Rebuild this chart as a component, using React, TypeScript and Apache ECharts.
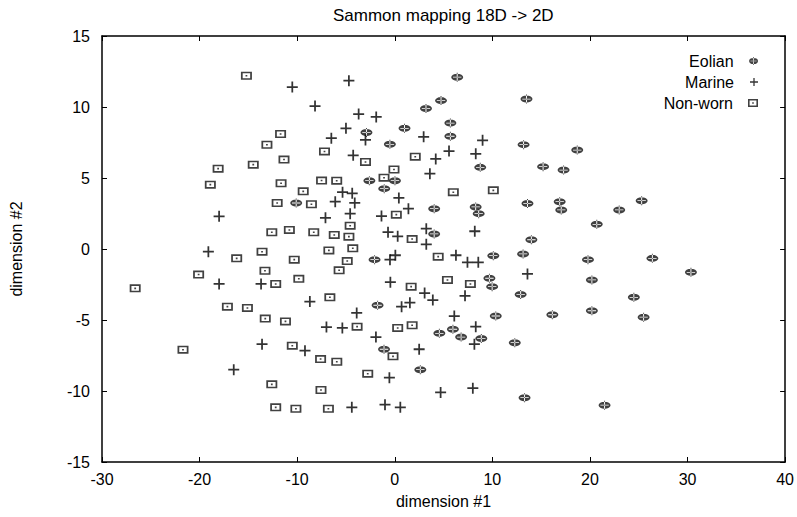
import React, { useEffect, useRef } from "react";
import * as echarts from "echarts";

const title = "Sammon mapping 18D -> 2D";
const xName = "dimension #1";
const yName = "dimension #2";
const seriesNames = ["Eolian", "Marine", "Non-worn"];

const eolian: number[][] = [
  [-10.1, 3.24], [6.4, 12.1], [4.74, 10.45], [3.2, 9.9], [13.5, 10.56], [-2.9, 8.2],
  [1.0, 8.5], [-0.5, 7.37], [5.7, 8.87], [5.7, 7.94], [13.2, 7.35], [8.76, 5.75],
  [15.2, 5.8], [-2.6, 4.81], [0.02, 4.81], [-1.08, 4.25], [13.6, 3.2], [4.04, 2.84],
  [8.29, 2.96], [8.6, 2.49], [4.04, 1.06], [14.0, 0.65], [18.7, 6.97], [17.3, 5.56],
  [16.9, 3.33], [17.06, 2.75], [25.3, 3.4], [23.0, 2.75], [20.7, 1.74], [-2.07, -0.75],
  [10.1, -0.47], [13.15, -0.35], [9.7, -2.06], [9.98, -2.65], [12.9, -3.2], [-1.76, -3.96],
  [10.35, -4.72], [4.57, -5.94], [5.96, -5.65], [6.8, -6.2], [8.87, -6.3], [12.3, -6.6],
  [-1.1, -7.06], [2.62, -8.5], [13.3, -10.47], [19.8, -0.75], [26.4, -0.66], [30.35, -1.64],
  [20.2, -2.18], [24.5, -3.4], [16.15, -4.63], [20.2, -4.35], [25.5, -4.8], [21.5, -11.0],
];

const marine: number[][] = [
  [-10.5, 11.4], [-8.17, 10.07], [-4.7, 11.85], [-3.7, 9.5], [-1.9, 9.3], [-5.0, 8.5],
  [-3.0, 7.68], [-6.5, 7.8], [2.96, 7.9], [9.0, 7.65], [-4.26, 6.6], [4.2, 6.34],
  [5.56, 6.9], [8.3, 6.7], [3.6, 5.3], [-5.35, 4.0], [-4.36, 3.92], [0.42, 3.6],
  [-6.1, 3.33], [-4.1, 3.24], [1.4, 2.84], [-4.57, 2.49], [-7.1, 2.2], [-1.36, 2.32],
  [-18.0, 2.3], [-0.69, 1.18], [0.3, 0.89], [3.23, 1.43], [8.2, 1.25], [3.23, 0.33],
  [-19.1, -0.19], [-18.0, -2.46], [-13.7, -2.46], [-8.7, -3.7], [-7.0, -5.5], [-13.6, -6.7],
  [-9.2, -7.16], [-16.5, -8.5], [-0.49, -0.75], [0.06, -0.44], [6.27, -0.44], [7.45, -0.94],
  [8.56, -0.94], [13.6, -1.76], [-0.45, -2.34], [3.06, -3.1], [3.9, -3.6], [7.2, -3.3],
  [0.7, -4.06], [1.55, -3.78], [-3.9, -4.5], [6.1, -4.72], [-5.37, -5.56], [8.3, -5.47],
  [8.16, -6.7], [-1.93, -6.2], [2.5, -7.06], [-0.55, -9.06], [4.7, -10.1], [8.0, -9.8],
  [-4.4, -11.15], [-1.0, -10.96], [0.57, -11.15],
];

const nonWorn: number[][] = [
  [-15.2, 12.2], [-11.7, 8.1], [-13.1, 7.34], [-7.2, 6.87], [-11.35, 6.3], [-18.1, 5.66],
  [-14.5, 5.94], [-18.9, 4.53], [-11.65, 4.63], [-7.5, 4.82], [-9.38, 4.06], [-12.05, 3.24],
  [-8.54, 3.15], [-12.6, 1.18], [-10.8, 1.34], [-8.3, 1.18], [-3.0, 6.13], [2.1, 6.5],
  [-0.08, 5.6], [-5.95, 4.81], [-1.1, 5.02], [6.0, 4.0], [10.1, 4.13], [0.16, 2.42],
  [-4.57, 1.64], [-6.2, 0.99], [-4.7, 0.87], [1.78, 0.7], [-4.3, 0.05], [-6.75, -0.1],
  [-16.2, -0.66], [-13.6, -0.19], [-10.3, -0.75], [-20.1, -1.8], [-13.3, -1.53], [-9.83, -2.1],
  [-26.6, -2.77], [-12.2, -2.46], [-17.15, -4.06], [-15.1, -4.15], [-13.27, -4.9], [-11.2, -5.1],
  [-21.7, -7.09], [-10.5, -6.81], [-7.6, -7.75], [-12.6, -9.53], [-7.56, -9.93], [-12.2, -11.15],
  [-10.13, -11.25], [-4.87, -0.85], [-5.7, -1.5], [4.45, -0.54], [1.68, -2.65], [5.4, -2.18],
  [7.75, -2.46], [-6.65, -3.4], [-3.86, -5.47], [0.3, -5.56], [1.78, -5.37], [-0.18, -7.56],
  [-5.94, -7.94], [-2.77, -8.78], [-6.8, -11.25],
];

const xMin = -30, xMax = 40, xStep = 10;
const yMin = -15, yMax = 15, yStep = 5;

const FONT = "Liberation Sans";

const eolianSym =
  "path://M0,4.5 A5,3.5 0 1,0 10,4.5 A5,3.5 0 1,0 0,4.5 Z M4.6,0 H5.4 V9 H4.6 Z M1.5,4.1 H8.5 V4.9 H1.5 Z";
const plusSym = "path://M4.2,0H5.8V4.2H10V5.8H5.8V10H4.2V5.8H0V4.2H4.2Z";
const boxSym =
  "path://M0,0H10V8H0Z M1.6,1.6V6.4H8.4V1.6Z M4.2,3.2H5.8V4.8H4.2Z";

export default function App() {
  const ref = useRef<HTMLDivElement>(null);
  useEffect(() => {
    if (!ref.current) return;
    const chart = echarts.init(ref.current, undefined, { renderer: "svg" });
    const axisCommon = {
      type: "value" as const,
      splitLine: { show: false },
      axisLine: { show: true, onZero: false, lineStyle: { color: "#000", width: 1.5 } },
      axisTick: { show: true, inside: true, length: 5, lineStyle: { color: "#000", width: 1 } },
    };
    const labelStyle = { color: "#000", fontSize: 16, fontFamily: FONT };
    const legendBase = {
      orient: "vertical" as const,
      align: "right" as const,
      itemWidth: 10,
      itemHeight: 8,
      itemGap: 6,
      textStyle: { color: "#000", fontSize: 16, fontFamily: FONT, padding: [0, 10, 0, 0] },
      padding: 0,
      right: 39,
    };
    chart.setOption({
      animation: false,
      backgroundColor: "#fff",
      title: {
        text: title,
        left: 328,
        top: 2,
        textStyle: { color: "#000", fontSize: 17, fontWeight: "normal", fontFamily: FONT },
      },
      legend: [
        { ...legendBase, data: [seriesNames[0]], top: 53 },
        { ...legendBase, data: [seriesNames[1]], top: 74 },
        { ...legendBase, data: [seriesNames[2]], top: 95 },
      ],
      grid: { left: 95, right: 11, top: 36, bottom: 55, show: false },
      xAxis: [
        {
          ...axisCommon,
          min: xMin, max: xMax, interval: xStep,
          position: "bottom",
          axisLabel: { ...labelStyle, margin: 9 },
          name: xName,
          nameLocation: "middle",
          nameGap: 31,
          nameTextStyle: { ...labelStyle },
        },
        {
          ...axisCommon,
          min: xMin, max: xMax, interval: xStep,
          position: "top",
          axisLabel: { show: false },
        },
      ],
      yAxis: [
        {
          ...axisCommon,
          min: yMin, max: yMax, interval: yStep,
          position: "left",
          axisLabel: { ...labelStyle, margin: 12 },
          name: yName,
          nameLocation: "middle",
          nameGap: 78,
          nameRotate: 90,
          nameTextStyle: { ...labelStyle },
        },
        {
          ...axisCommon,
          min: yMin, max: yMax, interval: yStep,
          position: "right",
          axisLabel: { show: false },
        },
      ],
      series: [
        {
          name: seriesNames[0], type: "scatter", data: eolian,
          symbol: eolianSym, symbolSize: [12, 9],
          itemStyle: { color: "#111" },
        },
        {
          name: seriesNames[1], type: "scatter", data: marine,
          symbol: plusSym, symbolSize: [11, 11],
          itemStyle: { color: "#000" },
        },
        {
          name: seriesNames[2], type: "scatter", data: nonWorn,
          symbol: boxSym, symbolSize: [11, 8],
          itemStyle: { color: "#111" },
        },
      ],
    });
    return () => chart.dispose();
  }, []);
  return <div ref={ref} style={{ width: 797, height: 517, position: "absolute", left: 0, top: 0 }} />;
}
